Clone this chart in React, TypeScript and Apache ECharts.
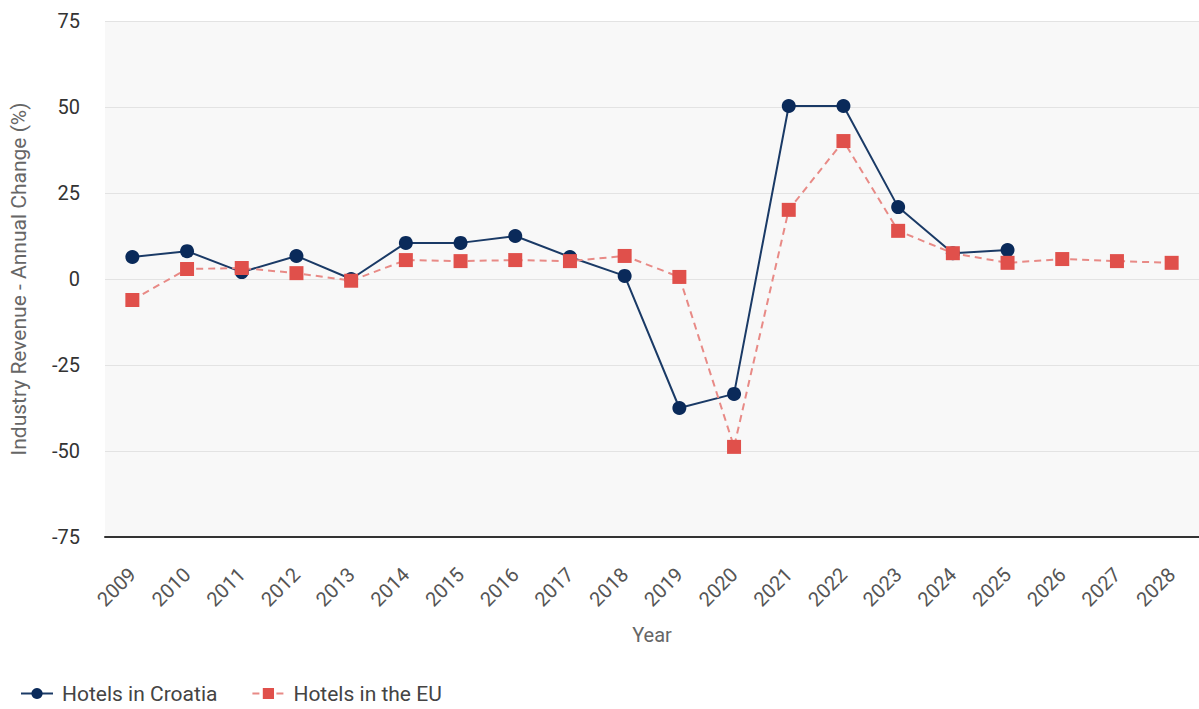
import React, { useEffect, useRef } from "react";
import * as echarts from "echarts";

const years = ["2009","2010","2011","2012","2013","2014","2015","2016","2017","2018","2019","2020","2021","2022","2023","2024","2025","2026","2027","2028"];
const croatia = [6.4, 8.1, 2.0, 6.7, 0.0, 10.5, 10.5, 12.5, 6.4, 0.9, -37.5, -33.4, 50.3, 50.3, 20.9, 7.5, 8.4, null, null, null];
const eu = [-6.1, 2.9, 3.2, 1.7, -0.5, 5.5, 5.2, 5.5, 5.2, 6.7, 0.6, -48.8, 20.1, 40.1, 14.0, 7.5, 4.7, 5.8, 5.2, 4.7];
const yTicks = { min: -75, max: 75, interval: 25 };

export default function App() {
  const ref = useRef<HTMLDivElement>(null);
  useEffect(() => {
    if (!ref.current) return;
    const chart = echarts.init(ref.current, null, { renderer: "svg" });
    const font = "Roboto, Arial, sans-serif";
    chart.setOption({
      animation: false,
      backgroundColor: "#ffffff",
      textStyle: { fontFamily: font },
      grid: {
        left: 104.5, top: 21, width: 1099, height: 516,
        show: true, backgroundColor: "#f8f8f8", borderWidth: 0,
      },
      legend: {
        left: 15, top: 678, itemWidth: 32, itemHeight: 14, itemGap: 34,
        textStyle: { fontSize: 21, color: "#444", fontFamily: font, padding: [0, 0, 0, 4] },
        data: ["Hotels in Croatia", "Hotels in the EU"],
      },
      xAxis: {
        type: "category",
        data: years,
        boundaryGap: true,
        name: "Year",
        nameLocation: "middle",
        nameGap: 88,
        nameTextStyle: { fontSize: 20, color: "#666", fontFamily: font },
        axisLine: { onZero: false, lineStyle: { color: "#333", width: 2 } },
        axisTick: { show: false },
        axisLabel: { rotate: 45, fontSize: 20, color: "#555", margin: 34, fontFamily: font },
        splitLine: { show: false },
      },
      yAxis: {
        type: "value",
        min: yTicks.min, max: yTicks.max, interval: yTicks.interval,
        name: "Industry Revenue - Annual Change (%)",
        nameLocation: "middle",
        nameGap: 76,
        nameTextStyle: { fontSize: 21, color: "#666", fontFamily: font },
        axisLine: { show: false },
        axisTick: { show: false },
        axisLabel: { fontSize: 20, color: "#333", margin: 25, fontFamily: font },
        splitLine: { lineStyle: { color: "#e3e3e3", width: 1 } },
      },
      series: [
        {
          name: "Hotels in Croatia",
          type: "line",
          data: croatia,
          symbol: "circle",
          symbolSize: 14,
          itemStyle: { color: "#0a2a5a" },
          lineStyle: { color: "#1a3a66", width: 2 },
          z: 3,
        },
        {
          name: "Hotels in the EU",
          type: "line",
          data: eu,
          symbol: "rect",
          symbolSize: 14,
          itemStyle: { color: "#e0504b" },
          lineStyle: { color: "#e88a86", width: 2, type: [7, 5] },
          z: 4,
        },
      ],
    });
    return () => chart.dispose();
  }, []);
  return (
    <div
      ref={ref}
      style={{ position: "absolute", left: 0, top: 0, width: 1199, height: 709 }}
    />
  );
}
